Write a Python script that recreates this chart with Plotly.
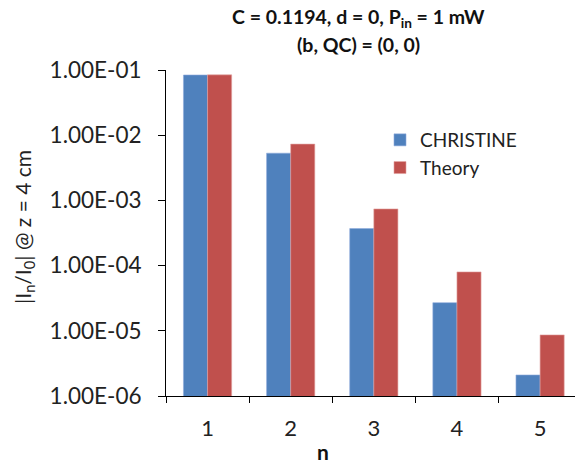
import plotly.graph_objects as go

categories = ["1", "2", "3", "4", "5"]
christine = [0.0838, 5.3e-3, 3.7e-4, 2.7e-5, 2.1e-6]
theory = [0.0842, 7.3e-3, 7.4e-4, 8.0e-5, 8.65e-6]
ytickvals = [1e-1, 1e-2, 1e-3, 1e-4, 1e-5, 1e-6]
yticktext = ["1.00E-01", "1.00E-02", "1.00E-03", "1.00E-04", "1.00E-05", "1.00E-06"]

FONT = "Lato"
W, H = 575, 463
L, R, T, B = 166, 0, 70, 67
PW, PH = W - L - R, H - T - B


def px(xp):
    return (xp - L) / PW


def py(yp):
    return (H - B - yp) / PH


fig = go.Figure()
fig.add_trace(go.Bar(x=categories, y=christine, name="CHRISTINE",
                     marker=dict(color="#4F81BD", line=dict(color="#8EAADB", width=0.6)),
                     legendgroup="a"))
fig.add_trace(go.Bar(x=categories, y=theory, name="Theory",
                     marker=dict(color="#C0504D", line=dict(color="#E3A3A1", width=0.6)),
                     legendgroup="b"))

fig.update_layout(
    width=W, height=H,
    margin=dict(l=L, r=R, t=T, b=B),
    paper_bgcolor="white", plot_bgcolor="white",
    barmode="group", bargap=0.42, bargroupgap=0,
    font=dict(family=FONT, color="#222222", size=19),
    showlegend=True,
    legend=dict(x=px(380), y=py(121), xanchor="left", yanchor="top",
                bgcolor="rgba(0,0,0,0)", font=dict(size=19, family=FONT, color="#222222"),
                tracegroupgap=0, itemwidth=30),
    xaxis=dict(type="category", range=[-0.5, 4.42], showline=True, linecolor="black",
               linewidth=1, ticks="outside", tickson="boundaries", ticklen=6,
               tickcolor="black", showgrid=False,
               tickfont=dict(size=22, family=FONT, color="#222222"),
               ticklabelstandoff=13),
    yaxis=dict(type="log", range=[-6, -1], showline=True, linecolor="black",
               linewidth=1, ticks="outside", ticklen=7, tickcolor="black",
               tickvals=ytickvals, ticktext=yticktext, showgrid=False,
               tickfont=dict(size=22.5, family=FONT, color="#222222"), ticklabelstandoff=12),
    annotations=[
        dict(text="<b>C = 0.1194, d = 0, P<sub>in</sub> = 1 mW</b>",
             xref="paper", yref="paper", x=px(358), y=py(18),
             xanchor="center", yanchor="middle", showarrow=False,
             font=dict(size=19.5, family=FONT, color="#111111")),
        dict(text="<b>(b, QC) = (0, 0)</b>",
             xref="paper", yref="paper", x=px(358), y=py(44),
             xanchor="center", yanchor="middle", showarrow=False,
             font=dict(size=19.5, family=FONT, color="#111111")),
        dict(text="|I<sub>n</sub>/I<sub>0</sub>| @ z = 4 cm",
             xref="paper", yref="paper", x=px(24), y=py(227),
             xanchor="center", yanchor="middle", showarrow=False, textangle=-90,
             font=dict(size=21, family=FONT, color="#222222")),
        dict(text="<b>n</b>", xref="paper", yref="paper",
             x=px(323), y=py(452),
             xanchor="center", yanchor="middle", showarrow=False,
             font=dict(size=21, family=FONT, color="#111111")),
    ],
)

fig.write_html("out.html")
